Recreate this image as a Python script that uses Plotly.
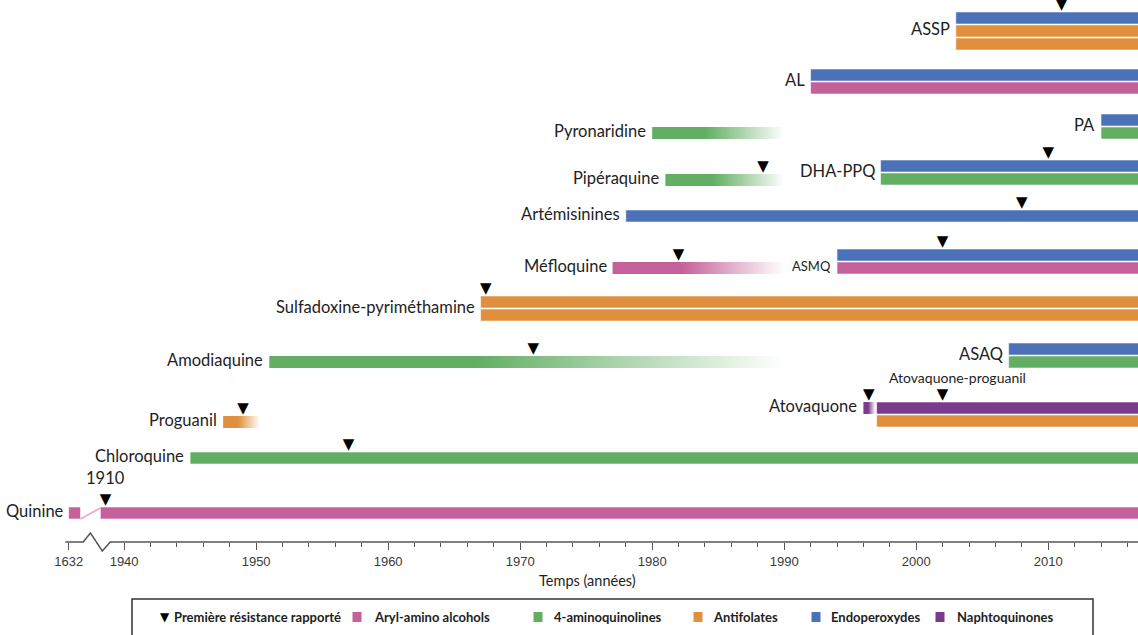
"""
Antimalarial drugs timeline with first reported resistance
"""

import plotly.graph_objects as go

W, H = 1138, 635
PLOT_BOTTOM = 542          # px, where the time axis sits
STRIPE = 13                # lane pitch of stacked stripes
FONT = "Lato, 'Open Sans', sans-serif"
TEXT_COLOR = "#1e1e1e"

CLASS_COLORS = {
    "Aryl-amino alcohols": "#C5619A",
    "4-aminoquinolines": "#62AE62",
    "Antifolates": "#E0903C",
    "Endoperoxydes": "#4B72B8",
    "Naphtoquinones": "#7A3A8E",
}

# drugs (quinine is handled on its own because of the axis break)
DRUGS = ["Chloroquine", "Proguanil", "Amodiaquine", "Sulfadoxine-pyriméthamine",
         "Méfloquine", "Artémisinines", "Pipéraquine", "Pyronaridine",
         "Atovaquone", "Atovaquone-proguanil", "ASAQ", "ASMQ", "DHA-PPQ",
         "PA", "AL", "ASSP"]
START = [1945, 1947.5, 1951, 1967, 1977, 1978, 1981, 1980,
         1996, 1997, 2007, 1994, 1997.3, 2014, 1992, 2003]
END = [2018, 1950.3, 1990, 2018, 1990, 2018, 1990, 1990,
       1996.9, 2018, 2018, 2018, 2018, 2018, 2018, 2018]
LANE = [458, 422, 362, 302, 268, 216, 180, 133,
        408, 408, 349, 255, 166, 120, 75, 18]
CLASSES = [
    ["4-aminoquinolines"],
    ["Antifolates"],
    ["4-aminoquinolines"],
    ["Antifolates", "Antifolates"],
    ["Aryl-amino alcohols"],
    ["Endoperoxydes"],
    ["4-aminoquinolines"],
    ["4-aminoquinolines"],
    ["Naphtoquinones"],
    ["Naphtoquinones", "Antifolates"],
    ["Endoperoxydes", "4-aminoquinolines"],
    ["Endoperoxydes", "Aryl-amino alcohols"],
    ["Endoperoxydes", "4-aminoquinolines"],
    ["Endoperoxydes", "4-aminoquinolines"],
    ["Endoperoxydes", "Aryl-amino alcohols"],
    ["Endoperoxydes", "Antifolates", "Antifolates"],
]
FADES = [False, True, True, False, True, False, True, True,
         True, False, False, False, False, False, False, False]
RESISTANCE = [1957, 1949, 1971, 1967.4, 1982, 2008, 1988.4, None,
              1996.4, 2002, None, 2002, 2010, None, None, 2011]

QUININE_LANE = 513
QUININE_YEARS = [1632, 1910]     # introduction, first resistance

TICK_YEARS = [1632, 1940, 1950, 1960, 1970, 1980, 1990, 2000, 2010]
MINOR_YEARS = [y for y in range(1942, 2017, 2) if y % 10]

LEGEND_LABELS = ["Première résistance rapporté"] + list(CLASS_COLORS)


def axis_pos(year):
    """Years before 1940 sit on the squeezed stretch left of the axis break"""
    squeezed = {1632: 1935.8, 1910: 1938.6}
    return squeezed.get(year, year)


def rgba(hex_color, alpha):
    r, g, b = (int(hex_color[i:i + 2], 16) for i in (1, 3, 5))
    return f"rgba({r},{g},{b},{alpha})"


def px_x(x):
    return x / W


def px_y(y):
    return (PLOT_BOTTOM - y) / PLOT_BOTTOM


def label(x, y, text, size=16.5, **kw):
    ann = dict(x=x, y=y, xref="x", yref="y", text=text, showarrow=False,
               xanchor="right", yanchor="middle", xshift=-4, yshift=2,
               font=dict(family=FONT, size=size, color=TEXT_COLOR))
    ann.update(kw)
    return ann


fig = go.Figure()

# solid stripes, one bar trace per class
solid = {cls: {"y": [], "base": [], "x": []} for cls in CLASS_COLORS}
fading = []
for name, s, e, lane, classes, fade in zip(DRUGS, START, END, LANE, CLASSES, FADES):
    for i, cls in enumerate(classes):
        y = lane + i * STRIPE
        if fade:
            fading.append((s, e, y, cls))
        else:
            solid[cls]["y"].append(y)
            solid[cls]["base"].append(s)
            solid[cls]["x"].append(e - s)

# quinine: short box before the break, then the long bar after it
q0 = axis_pos(QUININE_YEARS[0])
q1 = axis_pos(QUININE_YEARS[1])
solid["Aryl-amino alcohols"]["y"] += [QUININE_LANE, QUININE_LANE]
solid["Aryl-amino alcohols"]["base"] += [q0, q1 - 0.4]
solid["Aryl-amino alcohols"]["x"] += [0.9, 2018 - (q1 - 0.4)]

for cls, d in solid.items():
    fig.add_trace(go.Bar(
        orientation="h", y=d["y"], base=d["base"], x=d["x"], width=12,
        marker=dict(color=CLASS_COLORS[cls],
                    line=dict(color="rgba(255,255,255,0.55)", width=1)),
        showlegend=False, hoverinfo="skip",
    ))

# fading bars: drug no longer used alone
for s, e, y, cls in fading:
    c = CLASS_COLORS[cls]
    fig.add_trace(go.Scatter(
        x=[s, e, e, s, s], y=[y - 6, y - 6, y + 6, y + 6, y - 6],
        mode="lines", line=dict(width=0), fill="toself",
        fillgradient=dict(type="horizontal",
                          colorscale=[[0, c], [0.4, c], [1, rgba(c, 0)]]),
        showlegend=False, hoverinfo="skip",
    ))

# link across the axis break
fig.add_trace(go.Scatter(
    x=[q0 + 0.9, q1 - 0.4], y=[QUININE_LANE + 6, QUININE_LANE - 5],
    mode="lines", line=dict(color="#E8A9CB", width=1.5),
    showlegend=False, hoverinfo="skip",
))

# first reported resistance
res_x = [q1]
res_y = [QUININE_LANE - 13]
for r, lane in zip(RESISTANCE, LANE):
    if r is not None:
        res_x.append(r)
        res_y.append(lane - 13)
fig.add_trace(go.Scatter(
    x=res_x, y=res_y, mode="text", text=["▼"] * len(res_x),
    textposition="middle center",
    textfont=dict(family="DejaVu Sans", size=15, color="black"),
    showlegend=False, hoverinfo="skip",
))

# drug labels
annotations = []
for name, s, lane, classes in zip(DRUGS, START, LANE, CLASSES):
    mid = lane + (len(classes) - 1) * STRIPE / 2
    if name == "ASMQ":
        annotations.append(label(s, lane + STRIPE, name, size=13))
    elif name == "Atovaquone-proguanil":
        annotations.append(label(s, lane - 31, name, size=14,
                                 xanchor="left", xshift=10, yshift=0))
    else:
        annotations.append(label(s, mid, name))

annotations.append(label(q0, QUININE_LANE, "Quinine", xshift=-3))
annotations.append(label(q1, QUININE_LANE - 33, str(QUININE_YEARS[1]),
                         xanchor="center", xshift=0))

# axis title
annotations.append(dict(x=px_x(587), y=px_y(580), xref="paper", yref="paper",
                        text="Temps (années)", showarrow=False, yanchor="middle",
                        font=dict(family=FONT, size=14.5, color=TEXT_COLOR)))

# axis line with the break zigzag
ax_start, flat_end = axis_pos(1632) - 0.25, axis_pos(1632) + 1.1
peak, valley, back = flat_end + 0.55, flat_end + 1.45, flat_end + 2.05
dz = 9 / PLOT_BOTTOM
shapes = [dict(
    type="path", xref="x", yref="paper", layer="above",
    path=(f"M{ax_start},0 L{flat_end},0 L{peak},{dz} L{valley},{-dz} "
          f"L{back},0 L2020,0"),
    line=dict(color="#555555", width=1.5),
)]

# legend box drawn by hand
shapes.append(dict(type="rect", xref="paper", yref="paper",
                   x0=px_x(132), x1=px_x(1093), y0=px_y(640), y1=px_y(599),
                   line=dict(color="#333333", width=1.5), fillcolor="white"))
legend_sym_x = [158, 357, 538, 698, 816, 940]
legend_text_x = [172, 372, 552, 711, 829, 955]
for i, text in enumerate(LEGEND_LABELS):
    if i == 0:
        annotations.append(dict(x=px_x(legend_sym_x[i]), y=px_y(617), xref="paper",
                                yref="paper", text="▼", showarrow=False,
                                yanchor="middle",
                                font=dict(family="DejaVu Sans", size=12, color="black")))
    else:
        shapes.append(dict(type="rect", xref="paper", yref="paper",
                           x0=px_x(legend_sym_x[i] - 4.5), x1=px_x(legend_sym_x[i] + 4.5),
                           y0=px_y(622), y1=px_y(612),
                           fillcolor=CLASS_COLORS[text], line=dict(width=0)))
    annotations.append(dict(x=px_x(legend_text_x[i]), y=px_y(617), xref="paper",
                            yref="paper", text=f"<b>{text}</b>", showarrow=False,
                            xanchor="left", yanchor="middle",
                            font=dict(family=FONT, size=13, color=TEXT_COLOR)))

fig.update_layout(
    width=W, height=H,
    margin=dict(l=0, r=0, t=0, b=H - PLOT_BOTTOM),
    plot_bgcolor="white", paper_bgcolor="white",
    barmode="overlay", showlegend=False, hovermode=False,
    annotations=annotations, shapes=shapes,
    xaxis=dict(
        range=[1930.6, 2016.8], showgrid=False, zeroline=False, showline=False,
        tickmode="array", tickvals=[axis_pos(y) for y in TICK_YEARS],
        ticktext=[str(y) for y in TICK_YEARS],
        ticks="outside", ticklen=7, tickwidth=1.3, tickcolor="#555555",
        tickfont=dict(family="Liberation Sans, Arial", size=13, color="#3a3a3a"),
        minor=dict(tickmode="array", tickvals=MINOR_YEARS, ticks="outside",
                   ticklen=4, tickwidth=1.2, tickcolor="#555555"),
    ),
    yaxis=dict(range=[PLOT_BOTTOM, 0], visible=False),
)

fig.write_html("out.html", config={"displayModeBar": False},
               post_script="document.body.style.margin='0';"
                           "document.body.style.overflow='hidden';")
